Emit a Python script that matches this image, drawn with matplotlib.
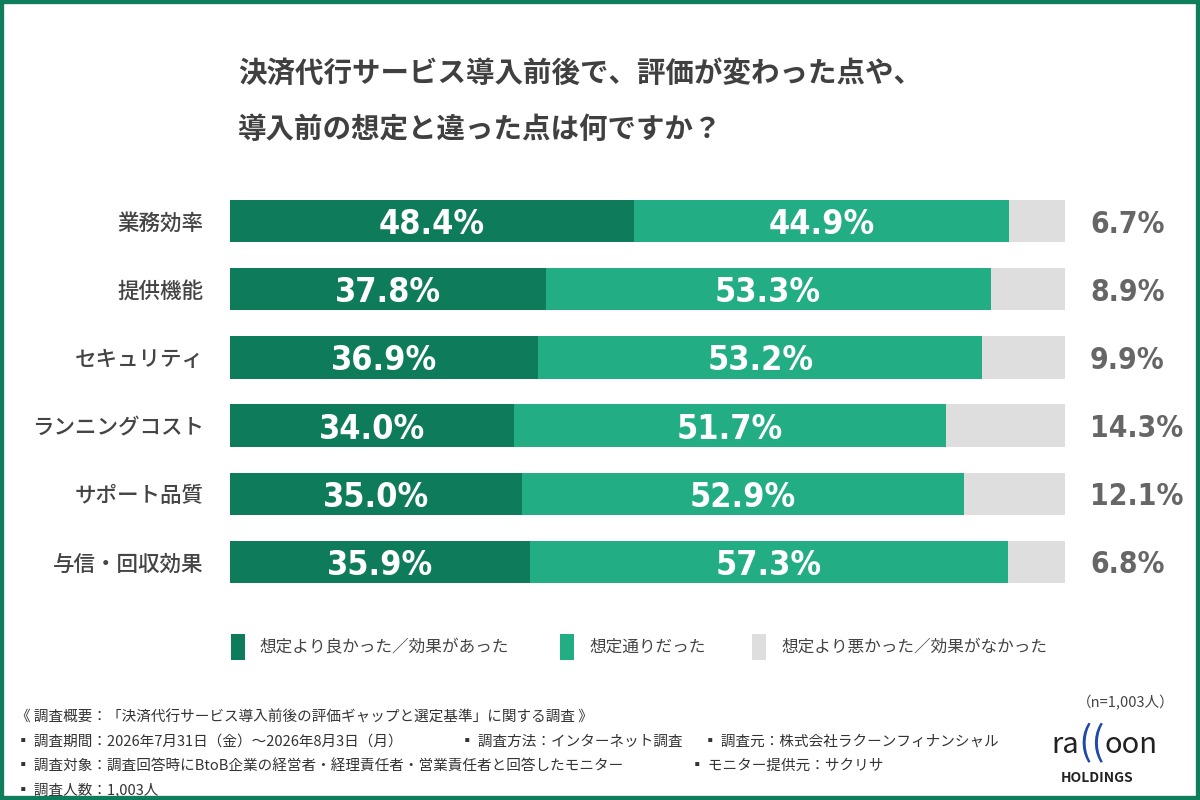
import numpy as np
import matplotlib
matplotlib.use("Agg")
import matplotlib.pyplot as plt
from matplotlib import font_manager as fm
from matplotlib.patches import Rectangle

plt.rcParams['font.family'] = ['Noto Sans CJK JP', 'DejaVu Sans']

# データ
categories = ['業務効率', '提供機能', 'セキュリティ', 'ランニングコスト', 'サポート品質', '与信・回収効果']
better = [48.4, 37.8, 36.9, 34.0, 35.0, 35.9]
as_expected = [44.9, 53.3, 53.2, 51.7, 52.9, 57.3]
worse = [6.7, 8.9, 9.9, 14.3, 12.1, 6.8]
series_names = ['想定より良かった／効果があった', '想定通りだった', '想定より悪かった／効果がなかった']
colors = ['#0e7c5a', '#22ad84', '#dedede']

title_lines = ['決済代行サービス導入前後で、評価が変わった点や、', '導入前の想定と違った点は何ですか？']

# 数字用の細長いフォントを探す（なければRobotoを小さめに）
names = {f.name for f in fm.fontManager.ttflist}
cond = [f for f in fm.fontManager.ttflist
        if f.name in ('DejaVu Sans', 'Liberation Sans') and 'ondensed' in str(f.stretch)]
if 'Liberation Sans Narrow' in names:
    num_kw = dict(family='Liberation Sans Narrow', fontweight='bold')
    in_size, side_size = 30, 26
elif 'DejaVu Sans Condensed' in names:
    num_kw = dict(family='DejaVu Sans Condensed', fontweight='bold')
    in_size, side_size = 24.5, 21.5
elif cond:
    num_kw = dict(family=cond[0].name, fontstretch='condensed', fontweight='bold')
    in_size, side_size = 24.5, 21.5
else:
    num_kw = dict(family='Roboto', fontweight='bold')
    in_size, side_size = 25, 21.5

W, H = 1200, 800
fig = plt.figure(figsize=(12, 8), dpi=100)


def fx(px):
    return px / W


def fy(py):
    return 1 - py / H


# 枠線
fig.patches.append(Rectangle((0, 0), 1, 1, transform=fig.transFigure, fill=False,
                             edgecolor='#0f7d5c', linewidth=6, zorder=10))

# タイトル
fig.text(fx(238), fy(75), title_lines[0], fontsize=20.5, fontweight='bold', color='#404040', va='center')
fig.text(fx(238), fy(130), title_lines[1], fontsize=20.5, fontweight='bold', color='#404040', va='center')

# 棒グラフ
ax = fig.add_axes([fx(230), fy(596), fx(835), (596 - 187) / H])
y = np.arange(len(categories))
left = np.zeros(len(categories))
for vals, col in zip([better, as_expected, worse], colors):
    vals = np.array(vals)
    ax.barh(y, vals, left=left, height=0.62, color=col, edgecolor='none')
    if col != colors[2]:
        for yi, l, v in zip(y, left, vals):
            ax.text(l + v / 2, yi, f'{v:.1f}%', ha='center', va='center_baseline',
                    color='white', fontsize=in_size, **num_kw)
    left = left + vals

for yi, v in zip(y, worse):
    ax.text(103, yi, f'{v:.1f}%', ha='left', va='center_baseline', color='#666666',
            fontsize=side_size, clip_on=False, **num_kw)

ax.set_xlim(0, 100)
ax.set_ylim(len(categories) - 0.5, -0.5)
ax.set_yticks(y)
ax.set_yticklabels(categories, fontsize=15.5, color='#444444', fontweight='medium')
ax.tick_params(axis='y', length=0, pad=19)
ax.set_xticks([])
for s in ax.spines.values():
    s.set_visible(False)

# 凡例
legend_x = [231, 560, 752]
for lx, name, col in zip(legend_x, series_names, colors):
    fig.patches.append(Rectangle((fx(lx), fy(660)), fx(14), 26 / H, transform=fig.transFigure,
                                 facecolor=col, edgecolor='none'))
    fig.text(fx(lx + 29), fy(647), name, fontsize=12, color='#444444', va='center')

# 調査概要
fig.text(fx(1175), fy(703), '（n=1,003人）', fontsize=10.5, color='#444444', ha='right', va='center')
foot = '#333333'
fs = 10.5
fig.text(fx(16), fy(718), '《 調査概要：「決済代行サービス導入前後の評価ギャップと選定基準」に関する調査 》',
         fontsize=fs, color=foot, va='center')
fig.text(fx(16), fy(742), '▪ 調査期間：2026年7月31日（金）～2026年8月3日（月）', fontsize=fs, color=foot, va='center')
fig.text(fx(460), fy(742), '▪ 調査方法：インターネット調査', fontsize=fs, color=foot, va='center')
fig.text(fx(703), fy(742), '▪ 調査元：株式会社ラクーンフィナンシャル', fontsize=fs, color=foot, va='center')
fig.text(fx(16), fy(766), '▪ 調査対象：調査回答時にBtoB企業の経営者・経理責任者・営業責任者と回答したモニター',
         fontsize=fs, color=foot, va='center')
fig.text(fx(690), fy(766), '▪ モニター提供元：サクリサ', fontsize=fs, color=foot, va='center')
fig.text(fx(16), fy(790), '▪ 調査人数：1,003人', fontsize=fs, color=foot, va='center')

# ロゴ
fig.text(fx(1079), fy(745), 'ra', fontsize=21, color='#222222', ha='right', va='center')
fig.text(fx(1092), fy(744), '((', fontsize=28, color='#1f4aa8', ha='center', va='center')
fig.text(fx(1104), fy(745), 'oon', fontsize=21, color='#222222', ha='left', va='center')
fig.text(fx(1097), fy(778), 'HOLDINGS', fontsize=10, fontweight='bold', color='#222222', ha='center', va='center')

fig.savefig('out.png', dpi=100, facecolor='white')
